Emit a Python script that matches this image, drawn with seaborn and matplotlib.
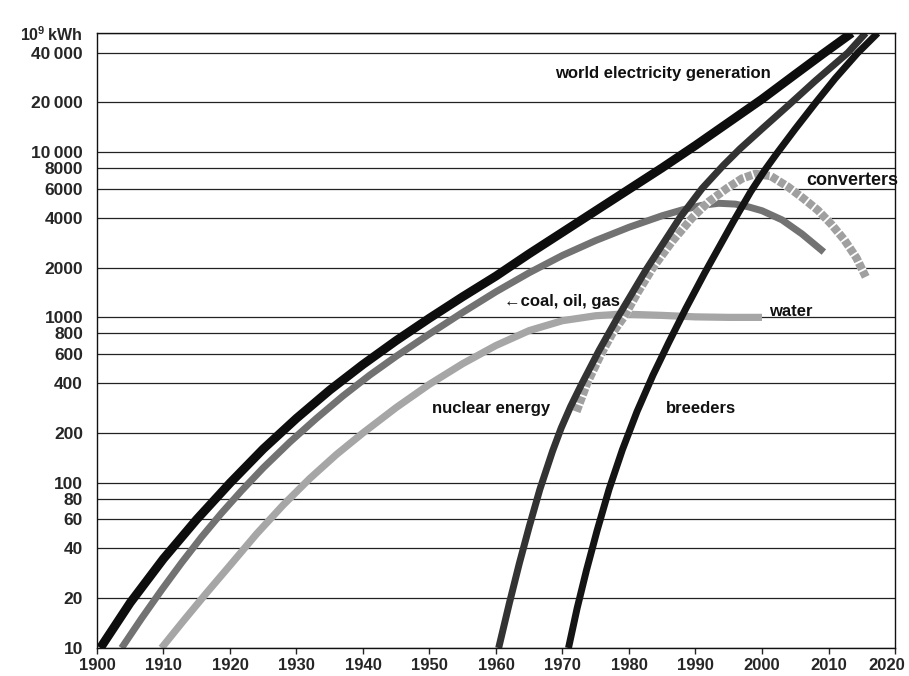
import matplotlib
matplotlib.use("Agg")
import matplotlib.pyplot as plt
import seaborn as sns

# world electricity generation, 10^9 kWh
world_years = [1900.5, 1905, 1910, 1915, 1920, 1925, 1930, 1935, 1940, 1945,
               1950, 1955, 1960, 1965, 1970, 1975, 1980, 1985, 1990, 1995,
               2000, 2005, 2009.2, 2013.5]
world_vals = [10, 18.8, 34.7, 60, 99.5, 160, 245, 363, 519, 724,
              989, 1334, 1778, 2427, 3273, 4416, 5957, 8035, 10965, 15136,
              20893, 29512, 39355, 52480]

coal_years = [1903.7, 1906.7, 1909.7, 1912.7, 1915.7, 1918.7, 1921.7, 1925, 1929, 1933,
              1937, 1941, 1945, 1950, 1955, 1960, 1965, 1970, 1975, 1980,
              1985, 1988, 1991, 1993.5, 1996, 1998, 2000, 2003, 2006, 2009.3]
coal_vals = [10, 15.1, 22.4, 32.7, 46.8, 65.3, 89.1, 123, 176, 245,
             335, 447, 582, 794, 1072, 1429, 1862, 2371, 2917, 3508,
             4121, 4467, 4764, 4898, 4842, 4656, 4416, 3890, 3199, 2483]

water_years = [1909.7, 1913, 1916.5, 1920, 1924, 1928, 1932, 1936, 1940, 1945,
               1950, 1955, 1960, 1965, 1970, 1975, 1979, 1985, 1990, 1995, 2000]
water_vals = [10, 14.6, 21.6, 31.6, 49, 73.3, 106, 148, 200, 285,
              394, 525, 676, 832, 955, 1023, 1047, 1028, 1007, 1000, 1000]

nuclear_years = [1960.4, 1962, 1963.5, 1965, 1966.6, 1968.5, 1969.8, 1971.2, 1972.8, 1975.5,
                 1978.3, 1982.6, 1987.6, 1991, 1994.2, 1996.7, 2000, 2003.9, 2008, 2012.9, 2015.6]
nuclear_vals = [10, 18.6, 32.4, 54.3, 91.2, 155, 214, 288, 389, 631,
                1000, 1950, 3981, 6026, 8318, 10471, 13804, 19055, 26915, 39811, 52480]

breeder_years = [1970.9, 1972.2, 1973.6, 1975.2, 1977, 1979, 1981.2, 1983.6, 1986, 1988.5,
                 1991.4, 1995.7, 1998.3, 2000.5, 2002.2, 2005, 2008, 2011, 2014.4, 2017.4]
breeder_vals = [10, 17.4, 29.5, 51.3, 91.2, 158, 269, 447, 708, 1122,
                1862, 3802, 5754, 7852, 9772, 13804, 19724, 27861, 39811, 52480]

conv_years = [1972.1, 1973.7, 1975.8, 1977.5, 1979.2, 1981.3, 1983.6, 1986.5, 1989.5, 1992,
              1994.7, 1997, 1999, 2001.3, 2003.9, 2006.2, 2008.4, 2010.5, 2012.4, 2014.2, 2015.6]
conv_vals = [269, 400, 600, 800, 1000, 1413, 2000, 2884, 4000, 5012,
             6026, 6918, 7379, 7161, 6166, 5248, 4446, 3631, 2938, 2291, 1758]

y_ticks = [10, 20, 40, 60, 80, 100, 200, 400, 600, 800, 1000, 2000, 4000, 6000, 8000,
           10000, 20000, 40000]
y_labels = ["10", "20", "40", "60", "80", "100", "200", "400", "600", "800", "1000", "2000",
            "4000", "6000", "8000", "10\u2009000", "20\u2009000", "40\u2009000"]
y_top = 52500
x_ticks = list(range(1900, 2021, 10))

sns.set_style("ticks")
plt.rcParams["font.family"] = ["Liberation Sans", "DejaVu Sans"]
plt.rcParams["font.weight"] = "bold"
plt.rcParams["mathtext.fontset"] = "custom"
plt.rcParams["mathtext.rm"] = "Liberation Sans:bold"
plt.rcParams["mathtext.default"] = "rm"

fig = plt.figure(figsize=(9.09, 6.76), dpi=100)
ax = fig.add_axes([0.1067, 0.0414, 0.8779, 0.9098])

line_kw = dict(ax=ax, solid_capstyle="butt", solid_joinstyle="round")
sns.lineplot(x=water_years, y=water_vals, color="#a6a6a6", linewidth=5.2, **line_kw)
sns.lineplot(x=coal_years, y=coal_vals, color="#727272", linewidth=5.0, **line_kw)
# converters: grey squares separated by white gaps
sns.lineplot(x=conv_years, y=conv_vals, color="white", linewidth=6.0, **line_kw)
sns.lineplot(x=conv_years, y=conv_vals, ax=ax, color="#a0a0a0", linewidth=6.0,
             linestyle=(0, (0.85, 0.22)))
sns.lineplot(x=nuclear_years, y=nuclear_vals, color="#333333", linewidth=5.0, **line_kw)
sns.lineplot(x=breeder_years, y=breeder_vals, color="#141414", linewidth=5.0, **line_kw)
sns.lineplot(x=world_years, y=world_vals, color="#0d0d0d", linewidth=6.4, **line_kw)

ax.set_yscale("log")
ax.set_xlim(1900, 2020)
ax.set_ylim(10, y_top)

ax.set_yticks(y_ticks + [y_top])
ax.set_yticklabels(y_labels + ["10$^9$\u2009kWh"])
ax.yaxis.set_minor_locator(matplotlib.ticker.NullLocator())
ax.set_xticks(x_ticks)
ax.set_xticklabels([str(x) for x in x_ticks[:-1]] + [""])
ax.set_xticks(list(range(1920, 2001, 20)), minor=True)
# last year label sits a little left of its tick, as in the source
ax.annotate("2020", xy=(2020, 0), xycoords=("data", "axes fraction"), xytext=(-6, -7.5),
            textcoords="offset points", ha="center", va="top", fontsize=12, fontweight="bold")

ax.tick_params(axis="y", which="both", length=0, pad=10, labelsize=12.5)
ax.tick_params(axis="x", which="major", length=4, width=1, direction="out", pad=3, labelsize=12)
ax.tick_params(axis="x", which="minor", length=0)
ax.get_yticklabels()[-1].set_fontsize(11.5)

ax.yaxis.grid(True, which="major", color="#222222", linewidth=0.9)
ax.xaxis.grid(True, which="minor", color="#222222", linewidth=0.9)
ax.xaxis.grid(False, which="major")
ax.set_axisbelow(True)
for side in ["left", "right", "top", "bottom"]:
    ax.spines[side].set_visible(True)
    ax.spines[side].set_color("#111111")
    ax.spines[side].set_linewidth(1.0)

ax.set_xlabel("")
ax.set_ylabel("")
if ax.get_legend():
    ax.get_legend().remove()

label_kw = dict(fontweight="bold", color="#111111", va="center")
ax.text(1968.9, 30000, "world electricity generation", ha="left", fontsize=12, **label_kw)
ax.text(2006.6, 6700, "converters", ha="left", clip_on=False, fontsize=13, **label_kw)
ax.text(1961.2, 1240, "\u2190coal, oil, gas", ha="left", fontsize=12, **label_kw)
ax.text(2001.0, 1080, "water", ha="left", fontsize=12, **label_kw)
ax.text(1950.4, 280, "nuclear energy", ha="left", fontsize=12, **label_kw)
ax.text(1985.6, 280, "breeders", ha="left", fontsize=12, **label_kw)

fig.savefig("out.png", dpi=100, facecolor="white")
